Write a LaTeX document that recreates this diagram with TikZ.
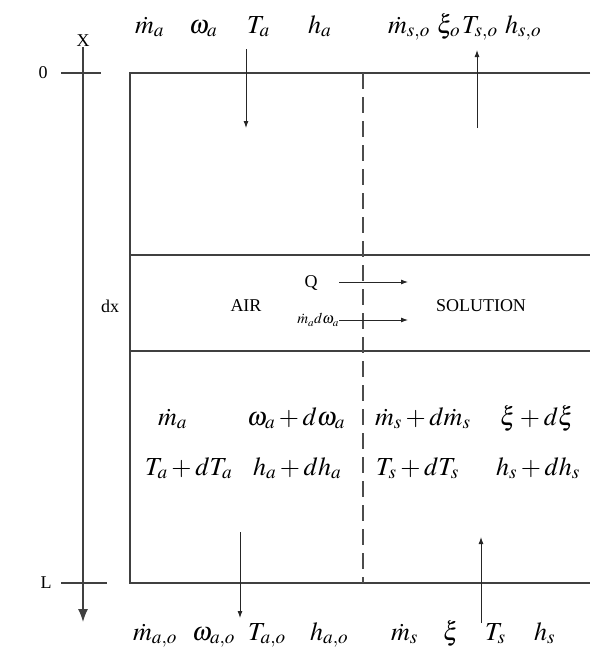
\documentclass[tikz,border=0pt]{standalone}
\usepackage{mathptmx}
\usepackage{fontspec}
\setmainfont{Liberation Serif}
\usetikzlibrary{arrows.meta}

\begin{document}
\begin{tikzpicture}[x=1pt, y=-1pt, every node/.style={inner sep=0pt},
	lbl/.style={anchor=base west, font=\fontsize{26}{30}\selectfont},
	txt/.style={font=\fontsize{18}{21}\selectfont},
	wall/.style={black!75, line width=1.3pt},
	flow/.style={-{Latex[length=7pt, width=5pt]}, black!85, line width=0.9pt},
	>={Latex[length=13pt, width=10pt]}]
	\useasboundingbox (0,0) rectangle (590,653);
	% channel walls, element dx and interface
	\draw[wall] (590,73) -- (130,73) -- (130,583) -- (590,583);
	\draw[wall] (130,255) -- (590,255);
	\draw[wall] (130,351) -- (590,351);
	\draw[black!70, line width=1.1pt, dash pattern=on 16pt off 8pt] (363,73) -- (363,583);
	% x axis
	\node[txt] (xlab) at (83,41) {X};
	\coordinate (xend) at (83,622);
	\draw[wall, ->] (xlab) -- (xend);
	\node[txt] (zero) at (43,73) {0};
	\node[txt] (len) at (46,583) {L};
	\draw[wall] (61,73) -- (101,73);
	\draw[wall] (61,583) -- (107,583);
	\node[txt] (dx) at (110,306) {dx};
	% inlet / outlet states
	\node[lbl] (ma) at (135,33) {$\dot m_a$};
	\node[lbl] (wa) at (189,33) {$\omega_a$};
	\node[lbl] (Ta) at (247,33) {$T_a$};
	\node[lbl] (ha) at (308,33) {$h_a$};
	\node[lbl] (mso) at (388,33) {$\dot m_{s,o}$};
	\node[lbl] (xio) at (437,33) {$\xi_o$};
	\node[lbl] (Tso) at (462,33) {$T_{s,o}$};
	\node[lbl] (hso) at (505,33) {$h_{s,o}$};
	\node[lbl] (mao) at (133,640) {$\dot m_{a,o}$};
	\node[lbl] (wao) at (192,640) {$\omega_{a,o}$};
	\node[lbl] (Tao) at (248,640) {$T_{a,o}$};
	\node[lbl] (hao) at (310,640) {$h_{a,o}$};
	\node[lbl] (ms) at (391,640) {$\dot m_s$};
	\node[lbl] (xi) at (443,640) {$\xi$};
	\node[lbl] (Ts) at (485,640) {$T_s$};
	\node[lbl] (hs) at (534,640) {$h_s$};
	% states at x + dx
	\node[lbl] (madx) at (158,425) {$\dot m_a$};
	\node[lbl] (wadx) at (247,425) {$\omega_a + d\omega_a$};
	\node[lbl] (msdx) at (375,425) {$\dot m_s + d\dot m_s$};
	\node[lbl] (xidx) at (500,425) {$\xi + d\xi$};
	\node[lbl] (Tadx) at (145,475) {$T_a + dT_a$};
	\node[lbl] (hadx) at (253,475) {$h_a + dh_a$};
	\node[lbl] (Tsdx) at (376,475) {$T_s + dT_s$};
	\node[lbl] (hsdx) at (496,475) {$h_s + dh_s$};
	% element
	\node[txt] (air) at (246,306) {AIR};
	\node[txt] (sol) at (481,306) {SOLUTION};
	\node[txt] (heat) at (311,283) {Q};
	\node[anchor=east, font=\fontsize{15}{17}\selectfont] (mdw) at (339,320) {$\dot m_a d\omega_a$};
	% flow directions
	\coordinate (aira) at (246,49);   \coordinate (airb) at (246,128);
	\coordinate (sola) at (477,128);  \coordinate (solb) at (477,50);
	\coordinate (heata) at (339,282); \coordinate (heatb) at (408,282);
	\coordinate (mdwb) at (408,320);
	\coordinate (airc) at (240,532);  \coordinate (aird) at (240,618);
	\coordinate (solc) at (481,623);  \coordinate (sold) at (481,537);
	\draw[flow] (aira) -- (airb);
	\draw[flow] (sola) -- (solb);
	\draw[flow] (heata) -- (heatb);
	\draw[flow] (mdw.east) -- (mdwb);
	\draw[flow] (airc) -- (aird);
	\draw[flow] (solc) -- (sold);
\end{tikzpicture}
\end{document}
